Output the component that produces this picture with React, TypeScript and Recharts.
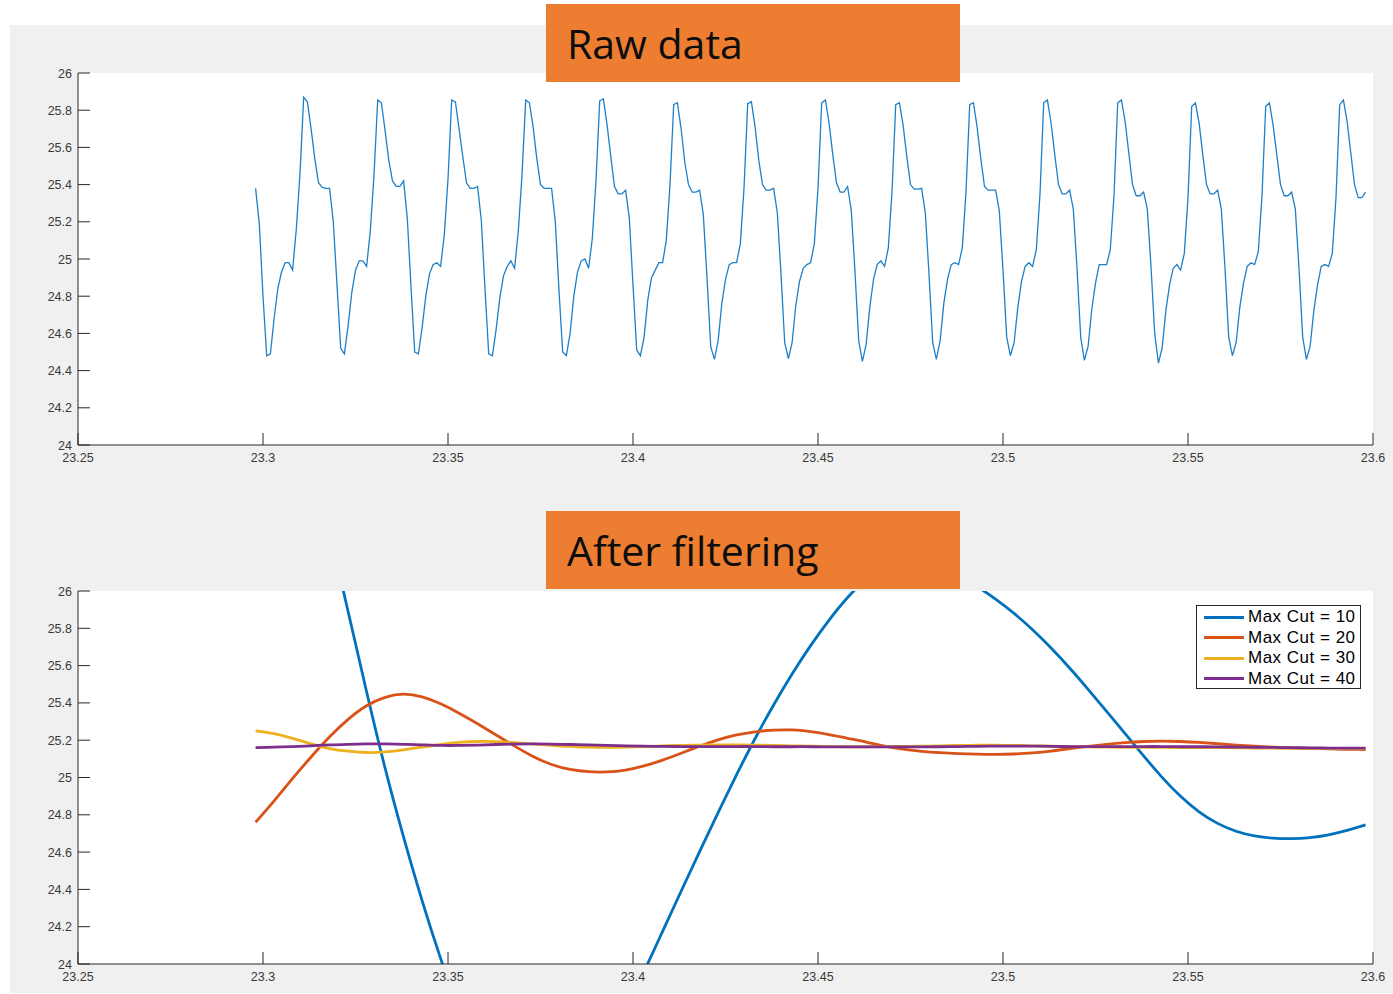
import { LineChart, Line, XAxis, YAxis, CartesianGrid, Legend } from "recharts";

const X_TICKS = [23.25, 23.3, 23.35, 23.4, 23.45, 23.5, 23.55, 23.6];
const Y_TICKS = [24, 24.2, 24.4, 24.6, 24.8, 25, 25.2, 25.4, 25.6, 25.8, 26];

// raw temperature trace, sampled every 1 ms from t = 23.298 s (one cycle per row)
const RAW_T0 = 23.298;
const RAW_DT = 0.001;
const rawTemp = [
  25.38, 25.19, 24.80, 24.48, 24.49, 24.68, 24.84, 24.93, 24.98, 24.98, 24.94, 25.16, 25.46, 25.87, 25.845, 25.70, 25.54, 25.41, 25.385, 25.38,
  25.38, 25.20, 24.86, 24.52, 24.49, 24.64, 24.82, 24.94, 24.99, 24.99, 24.96, 25.15, 25.45, 25.855, 25.84, 25.69, 25.53, 25.42, 25.39, 25.39,
  25.42, 25.22, 24.85, 24.50, 24.49, 24.63, 24.80, 24.92, 24.97, 24.98, 24.96, 25.13, 25.43, 25.855, 25.845, 25.70, 25.55, 25.41, 25.38, 25.38,
  25.39, 25.21, 24.84, 24.49, 24.48, 24.62, 24.79, 24.91, 24.96, 24.99, 24.95, 25.15, 25.45, 25.855, 25.84, 25.71, 25.54, 25.40, 25.38, 25.38,
  25.38, 25.20, 24.83, 24.50, 24.48, 24.60, 24.80, 24.93, 24.99, 25.00, 24.95, 25.11, 25.42, 25.85, 25.86, 25.72, 25.55, 25.39, 25.35, 25.35,
  25.37, 25.22, 24.86, 24.51, 24.48, 24.58, 24.78, 24.90, 24.94, 24.98, 24.98, 25.10, 25.40, 25.83, 25.84, 25.70, 25.52, 25.40, 25.36, 25.36,
  25.37, 25.24, 24.90, 24.53, 24.46, 24.56, 24.76, 24.89, 24.97, 24.98, 24.98, 25.08, 25.38, 25.835, 25.845, 25.71, 25.53, 25.40, 25.37, 25.37,
  25.38, 25.25, 24.92, 24.55, 24.465, 24.55, 24.75, 24.88, 24.95, 24.97, 24.98, 25.08, 25.38, 25.84, 25.855, 25.73, 25.56, 25.41, 25.36, 25.36,
  25.39, 25.26, 24.93, 24.56, 24.45, 24.54, 24.74, 24.89, 24.97, 24.99, 24.96, 25.06, 25.36, 25.83, 25.84, 25.72, 25.55, 25.40, 25.376, 25.376,
  25.38, 25.25, 24.92, 24.55, 24.46, 24.56, 24.76, 24.89, 24.97, 24.98, 24.97, 25.06, 25.36, 25.83, 25.84, 25.71, 25.54, 25.39, 25.37, 25.37,
  25.37, 25.26, 24.94, 24.58, 24.48, 24.55, 24.74, 24.88, 24.96, 24.98, 24.96, 25.05, 25.35, 25.84, 25.855, 25.73, 25.56, 25.40, 25.35, 25.35,
  25.37, 25.27, 24.95, 24.58, 24.455, 24.53, 24.73, 24.87, 24.97, 24.97, 24.97, 25.05, 25.34, 25.84, 25.855, 25.74, 25.57, 25.40, 25.34, 25.34,
  25.36, 25.27, 24.96, 24.60, 24.44, 24.52, 24.72, 24.86, 24.95, 24.97, 24.94, 25.03, 25.33, 25.82, 25.84, 25.73, 25.56, 25.40, 25.35, 25.35,
  25.37, 25.27, 24.95, 24.58, 24.48, 24.55, 24.74, 24.87, 24.96, 24.98, 24.97, 25.04, 25.34, 25.82, 25.84, 25.72, 25.56, 25.40, 25.34, 25.34,
  25.36, 25.27, 24.95, 24.58, 24.46, 24.53, 24.72, 24.86, 24.96, 24.97, 24.96, 25.03, 25.33, 25.83, 25.855, 25.74, 25.57, 25.40, 25.33, 25.33,
  25.36,
];

// filter outputs, every 5 ms from the same start time
const FILT_T0 = 23.298;
const FILT_DT = 0.005;
const cut10 = [
  27.74, 27.47, 27.13, 26.74, 26.32, 25.89, 25.46, 25.05, 24.68, 24.34,
  24.03, 23.75, 23.505, 23.315, 23.19, 23.135, 23.15, 23.235, 23.375, 23.555,
  23.755, 23.96, 24.175, 24.39, 24.603, 24.812, 25.015, 25.209, 25.389, 25.555,
  25.707, 25.844, 25.965, 26.06, 26.12, 26.145, 26.14, 26.115, 26.075, 26.022,
  25.957, 25.88, 25.792, 25.694, 25.587, 25.473, 25.355, 25.235, 25.116, 25.001,
  24.899, 24.816, 24.754, 24.712, 24.687, 24.675, 24.672, 24.678, 24.693, 24.716,
  24.746,
];
const cut20 = [
  24.76, 24.875, 24.995, 25.11, 25.218, 25.312, 25.385, 25.43, 25.447, 25.432,
  25.395, 25.345, 25.288, 25.228, 25.168, 25.113, 25.07, 25.043, 25.031, 25.03,
  25.04, 25.062, 25.093, 25.13, 25.168, 25.202, 25.228, 25.245, 25.254, 25.255,
  25.246, 25.23, 25.21, 25.19, 25.168, 25.152, 25.14, 25.133, 25.128, 25.125,
  25.124, 25.126, 25.132, 25.142, 25.155, 25.167, 25.178, 25.187, 25.193, 25.195,
  25.193, 25.188, 25.181, 25.174, 25.168, 25.163, 25.159, 25.156, 25.153, 25.151,
  25.15,
];
const cut30 = [
  25.25, 25.235, 25.21, 25.18, 25.155, 25.141, 25.134, 25.137, 25.148, 25.163,
  25.177, 25.188, 25.193, 25.192, 25.187, 25.18, 25.172, 25.167, 25.163, 25.162,
  25.163, 25.166, 25.17, 25.172, 25.174, 25.175, 25.175, 25.174, 25.172, 25.17,
  25.168, 25.166, 25.165, 25.165, 25.166, 25.167, 25.168, 25.17, 25.172, 25.173,
  25.173, 25.172, 25.17, 25.168, 25.166, 25.164, 25.163, 25.162, 25.162, 25.161,
  25.16, 25.16, 25.16, 25.159, 25.158, 25.157, 25.156, 25.155, 25.155, 25.155,
  25.155,
];
const cut40 = [
  25.16, 25.163, 25.166, 25.17, 25.175, 25.178, 25.18, 25.18, 25.178, 25.175,
  25.172, 25.172, 25.174, 25.177, 25.179, 25.18, 25.179, 25.177, 25.175, 25.172,
  25.17, 25.168, 25.167, 25.166, 25.166, 25.166, 25.166, 25.166, 25.165, 25.165,
  25.165, 25.164, 25.164, 25.164, 25.164, 25.164, 25.164, 25.165, 25.166, 25.167,
  25.168, 25.168, 25.168, 25.167, 25.166, 25.166, 25.166, 25.166, 25.166, 25.166,
  25.165, 25.165, 25.164, 25.163, 25.162, 25.161, 25.16, 25.159, 25.158, 25.158,
  25.157,
];

const rawData = rawTemp.map((v, i) => ({ t: +(RAW_T0 + i * RAW_DT).toFixed(3), v }));
const filtData = cut10.map((_, i) => ({
  t: +(FILT_T0 + i * FILT_DT).toFixed(3),
  c10: cut10[i],
  c20: cut20[i],
  c30: cut30[i],
  c40: cut40[i],
}));

const AXIS = "#262626";
const LABEL = "#3a3a3a";
const TICK_FONT = "'Liberation Sans', Arial, sans-serif";

// matlab-style inward ticks, label under / left of the axis line
const XTick = ({ x, y, payload }: any) => (
  <g>
    <line x1={x} x2={x} y1={y} y2={y - 12} stroke={AXIS} strokeWidth={1} />
    <text x={x} y={y + 16.5} textAnchor="middle" fill={LABEL} fontSize={12.5} fontFamily={TICK_FONT}>
      {String(payload.value)}
    </text>
  </g>
);

const YTick = ({ x, y, payload }: any) => (
  <g>
    <line x1={x} x2={x + 12} y1={y} y2={y} stroke={AXIS} strokeWidth={1} />
    <text x={x - 6} y={y + 4.5} textAnchor="end" fill={LABEL} fontSize={12.5} fontFamily={TICK_FONT}>
      {String(payload.value)}
    </text>
  </g>
);

const renderLegend = ({ payload }: any) => (
  <div
    style={{
      width: 165,
      height: 84,
      boxSizing: "border-box",
      border: "1px solid #262626",
      background: "#fff",
      padding: "1px 0 0 7px",
      fontFamily: TICK_FONT,
      fontSize: 17,
      letterSpacing: 0.5,
      color: "#000",
    }}
  >
    {payload.map((p: any) => (
      <div key={p.value} style={{ display: "flex", alignItems: "center", height: 20.5 }}>
        <span style={{ display: "inline-block", width: 40, height: 3, background: p.color, marginRight: 4 }} />
        <span style={{ lineHeight: "20px" }}>{p.value}</span>
      </div>
    ))}
  </div>
);

function Title({ top, text }: { top: number; text: string }) {
  return (
    <div
      style={{
        position: "absolute",
        left: 546,
        top,
        width: 414,
        height: 78,
        background: "#ED7D31",
        boxSizing: "border-box",
        paddingLeft: 21,
        fontFamily: "'Open Sans', sans-serif",
        fontSize: 41,
        lineHeight: "78px",
        color: "#0d0d0d",
      }}
    >
      {text}
    </div>
  );
}

const axisProps = {
  tickLine: false,
  tickSize: 0,
  tickMargin: 0,
  interval: 0 as const,
  allowDataOverflow: true,
  axisLine: { stroke: AXIS, strokeWidth: 1 },
};

export default function App() {
  return (
    <div style={{ position: "absolute", left: 0, top: 0, width: 1393, height: 994, background: "#fff", overflow: "hidden" }}>
      <div style={{ position: "absolute", left: 10, top: 25, width: 1383, height: 968, background: "#eff0ef" }} />

      <div style={{ position: "absolute", left: 0, top: 0 }}>
        <LineChart width={1393} height={475} data={rawData} margin={{ top: 73, right: 20, bottom: 0, left: 0 }}>
          <CartesianGrid fill="#fff" stroke="none" horizontal={false} vertical={false} />
          <XAxis dataKey="t" type="number" domain={[23.25, 23.6]} ticks={X_TICKS} height={30} tick={<XTick />} {...axisProps} />
          <YAxis type="number" domain={[24, 26]} ticks={Y_TICKS} width={78} tick={<YTick />} {...axisProps} />
          <Line type="linear" dataKey="v" stroke="#1f80c8" strokeWidth={1.3} dot={false} isAnimationActive={false} />
        </LineChart>
      </div>

      <div style={{ position: "absolute", left: 0, top: 518 }}>
        <LineChart width={1393} height={476} data={filtData} margin={{ top: 73, right: 20, bottom: 0, left: 0 }}>
          <CartesianGrid fill="#fff" stroke="none" horizontal={false} vertical={false} />
          <XAxis dataKey="t" type="number" domain={[23.25, 23.6]} ticks={X_TICKS} height={30} tick={<XTick />} {...axisProps} />
          <YAxis type="number" domain={[24, 26]} ticks={Y_TICKS} width={78} tick={<YTick />} {...axisProps} />
          <Line type="natural" dataKey="c10" name="Max Cut = 10" stroke="#0072BD" strokeWidth={2.8} dot={false} isAnimationActive={false} />
          <Line type="natural" dataKey="c20" name="Max Cut = 20" stroke="#D95319" strokeWidth={2.8} dot={false} isAnimationActive={false} />
          <Line type="natural" dataKey="c30" name="Max Cut = 30" stroke="#EDB120" strokeWidth={2.8} dot={false} isAnimationActive={false} />
          <Line type="natural" dataKey="c40" name="Max Cut = 40" stroke="#7E2F8E" strokeWidth={2.8} dot={false} isAnimationActive={false} />
          <Legend
            layout="vertical"
            align="center"
            verticalAlign="middle"
            content={renderLegend}
            wrapperStyle={{ left: 1196, top: 87, width: 165, height: 84 }}
          />
        </LineChart>
      </div>

      <Title top={4} text="Raw data" />
      <Title top={511} text="After filtering" />
    </div>
  );
}
